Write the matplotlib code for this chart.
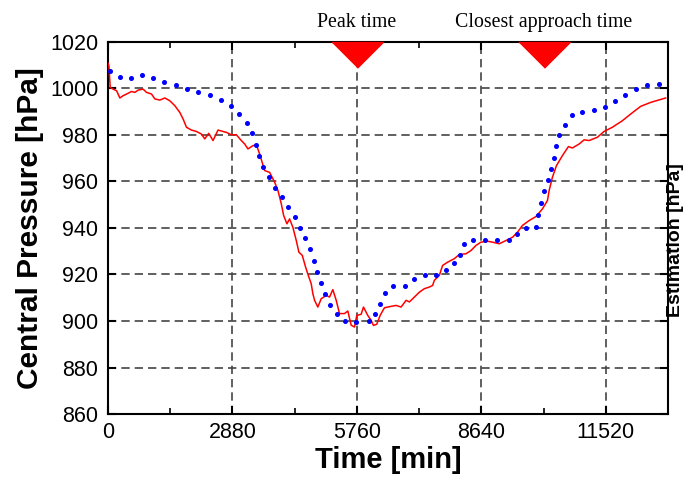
import numpy as np
from matplotlib import pyplot as plt

# observed central pressure (red line)
obs_t = [0, 23, 53, 122, 201, 277, 353, 432, 547, 624, 700, 815, 894, 1009, 1086,
         1201, 1317, 1432, 1548, 1663, 1739, 1818, 1933, 2049, 2164, 2241, 2333,
         2432, 2548, 2663, 2742, 2857, 2973, 3072, 3165, 3241, 3356, 3435, 3511,
         3627, 3742, 3858, 3934, 4012, 4066, 4142, 4204, 4280, 4359, 4419, 4498,
         4574, 4650, 4705, 4742, 4782, 4858, 4936, 5052, 5128, 5204, 5283, 5359,
         5475, 5551, 5629, 5706, 5759, 5860, 5914, 6013, 6091, 6145, 6221, 6299,
         6399, 6553, 6669, 6784, 6900, 6976, 7092, 7207, 7323, 7438, 7514, 7554,
         7669, 7745, 7861, 8016, 8131, 8286, 8401, 8517, 8632, 8785, 8900, 9055,
         9210, 9362, 9478, 9593, 9748, 9903, 10055, 10171, 10210, 10286, 10379,
         10517, 10656, 10748, 10903, 11019, 11134, 11326, 11481, 11672, 11903,
         12097, 12328, 12559, 12906]
obs_p = [1011.0, 1009.7, 1000.4, 999.7, 999.0, 995.9, 996.9, 997.6, 998.7, 998.3,
         999.3, 999.7, 998.3, 997.6, 995.5, 995.0, 995.9, 994.7, 992.6, 989.7,
         986.9, 983.3, 982.1, 981.5, 980.4, 978.3, 980.7, 977.6, 982.1, 981.5,
         981.1, 980.1, 980.1, 977.9, 976.1, 974.0, 975.4, 975.8, 971.8, 964.7,
         963.9, 959.7, 956.1, 950.4, 945.4, 941.8, 943.9, 940.3, 934.6, 929.6,
         928.2, 923.2, 918.9, 916.0, 911.8, 908.9, 906.0, 909.6, 911.0, 910.3,
         913.5, 908.9, 903.2, 903.2, 904.3, 898.2, 897.4, 902.4, 902.9, 906.0,
         902.4, 900.3, 898.1, 898.6, 902.4, 905.7, 906.3, 906.7, 906.0, 908.9,
         908.2, 910.3, 912.4, 913.9, 914.6, 915.3, 917.5, 919.6, 923.9, 925.3,
         926.8, 928.6, 928.9, 930.3, 932.5, 933.9, 934.3, 933.9, 933.2, 934.6,
         936.0, 938.2, 941.1, 943.2, 944.9, 948.2, 951.8, 956.1, 961.8, 966.8,
         971.1, 975.0, 974.4, 976.1, 977.9, 977.6, 979.0, 981.5, 983.3, 986.1,
         989.0, 992.3, 994.0, 995.9]

# estimated pressure (blue dots)
est_t = [39, 270, 524, 778, 1046, 1300, 1564, 1825, 2095, 2356, 2610, 2841, 3033,
         3218, 3326, 3419, 3495, 3587, 3726, 3865, 4019, 4174, 4327, 4435, 4558,
         4666, 4759, 4844, 4927, 5020, 5135, 5297, 5475, 5752, 6036, 6191, 6306,
         6422, 6595, 6865, 7087, 7339, 7600, 7815, 8009, 8154, 8242, 8443, 8716,
         8993, 9270, 9459, 9672, 9910, 9963, 10019, 10088, 10180, 10256, 10319,
         10379, 10441, 10587, 10748, 10980, 11243, 11504, 11735, 11973, 12213,
         12481, 12745]
est_p = [1007.6, 1005.0, 1004.7, 1005.6, 1004.3, 1002.9, 1001.3, 999.9, 998.3,
         997.0, 995.2, 992.6, 989.0, 985.3, 980.7, 975.7, 971.1, 966.1, 961.8,
         957.3, 953.2, 948.9, 944.6, 940.1, 935.5, 930.9, 926.0, 921.0, 916.3,
         911.6, 907.0, 902.9, 899.9, 899.5, 900.0, 902.9, 907.5, 912.2, 915.0,
         915.2, 918.2, 919.8, 919.8, 922.1, 924.9, 928.2, 932.9, 934.9, 934.9,
         934.9, 934.9, 937.6, 939.8, 940.6, 945.7, 950.6, 955.7, 960.5, 965.2,
         970.1, 975.1, 980.1, 984.4, 988.7, 990.0, 990.6, 992.0, 994.4, 997.2,
         999.7, 1001.5, 1002.1]

event_times = [5760, 10080]
event_names = ["Peak time", "Closest approach time"]

x_ticks = [0, 2880, 5760, 8640, 11520]
y_ticks = list(range(860, 1021, 20))

plt.rcParams['font.family'] = ['Liberation Sans', 'DejaVu Sans']

fig = plt.figure(figsize=(6.83, 4.82), dpi=100)
ax = fig.add_axes([0.158, 0.141, 0.820, 0.772])

ax.plot(obs_t, obs_p, color="red", lw=1.1, zorder=3)
ax.plot(est_t, est_p, ls="none", marker="o", ms=2.6, color="blue", mec="blue", zorder=4)

tri = [(-1, 0), (1, 0), (0, -1)]
ax.plot(event_times, [1020] * len(event_times), ls="none", marker=tri, ms=37,
        color="red", clip_on=False, zorder=5)
for t, name in zip(event_times, event_names):
    ax.text(t, 1024.3, name, ha="center", va="bottom", fontsize=14.3,
            family="Liberation Serif")

ax.set_xlim(0, 12960)
ax.set_ylim(860, 1020)
ax.set_xticks(x_ticks)
ax.set_xticks(np.arange(1440, 12960, 2880), minor=True)
ax.set_yticks(y_ticks)
ax.grid(True, which="major", color="#444444", ls=(0, (5, 3)), lw=1.2)
ax.tick_params(axis="both", which="major", direction="in", length=6, width=1.5,
               labelsize=15.5, top=True, right=True)
ax.tick_params(axis="x", which="minor", direction="in", length=4, width=1.2, top=True)
ax.tick_params(axis="y", pad=7)
ax.tick_params(axis="x", pad=6)
for s in ax.spines.values():
    s.set_linewidth(1.5)

ax.set_xlabel("Time [min]", fontsize=21, fontweight="bold", labelpad=2)
ax.set_ylabel("Central Pressure [hPa]", fontsize=21.5, fontweight="bold", labelpad=4)
fig.text(0.977, 0.502, "Estimation [hPa]", rotation=90, ha="left", va="center",
         fontsize=14, fontweight="bold")

fig.savefig("out.png", dpi=100)
